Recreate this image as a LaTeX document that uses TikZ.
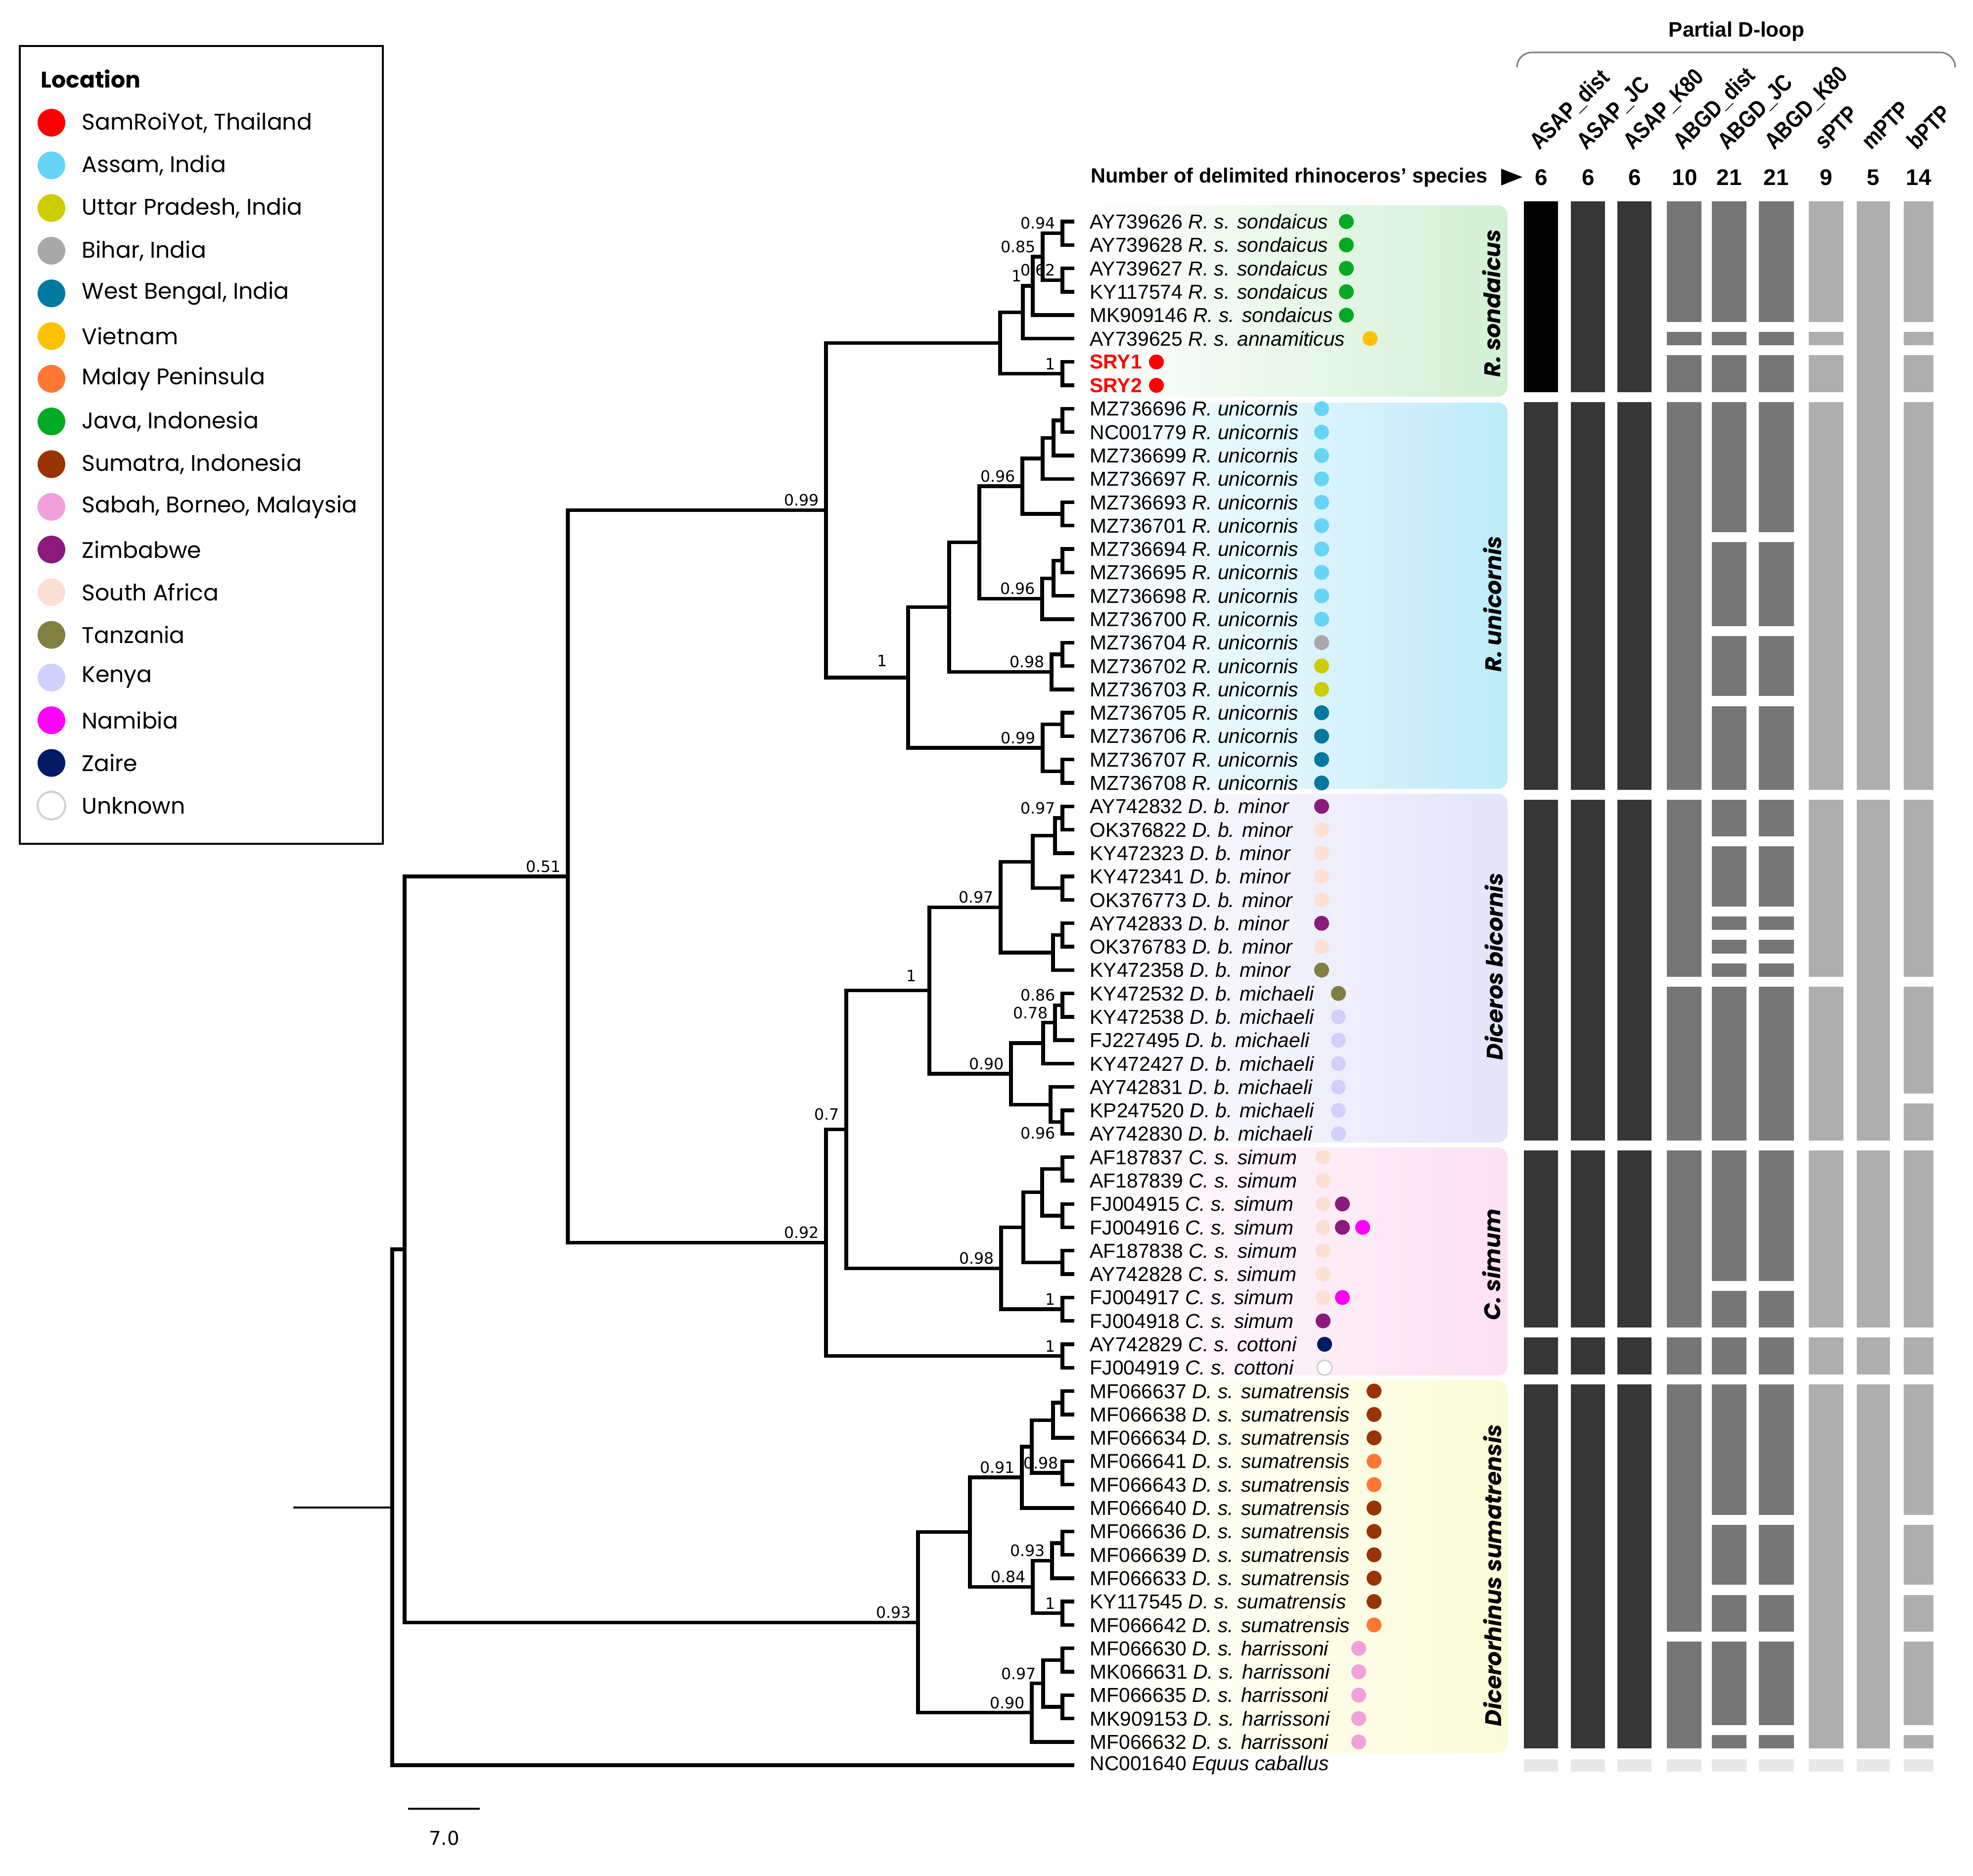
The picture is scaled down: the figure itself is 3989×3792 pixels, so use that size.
\documentclass[tikz,border=0pt]{standalone}
\usepackage{fontspec}
\setmainfont{Liberation Sans}
\newfontfamily\legfont{Poppins}
\newfontfamily\suppfont{DejaVu Sans}
\newfontfamily\narrowfont[FakeStretch=0.84]{Liberation Sans}

\definecolor{cSam}{HTML}{FF0000}
\definecolor{cAssam}{HTML}{66D5F5}
\definecolor{cUP}{HTML}{CCCC00}
\definecolor{cBihar}{HTML}{A8A8A8}
\definecolor{cWB}{HTML}{00789F}
\definecolor{cViet}{HTML}{FFC000}
\definecolor{cMalay}{HTML}{FF7733}
\definecolor{cJava}{HTML}{00AA22}
\definecolor{cSumatra}{HTML}{993300}
\definecolor{cSabah}{HTML}{F2A0DC}
\definecolor{cZim}{HTML}{8B1A7A}
\definecolor{cSA}{HTML}{FCE0D4}
\definecolor{cTanz}{HTML}{7F7F40}
\definecolor{cKenya}{HTML}{D0D0FA}
\definecolor{cNam}{HTML}{FF00FF}
\definecolor{cZaire}{HTML}{001A66}
\definecolor{bDark}{HTML}{363636}
\definecolor{bMid}{HTML}{767676}
\definecolor{bLight}{HTML}{AEAEAE}
\definecolor{bNone}{HTML}{E8E8E8}
\definecolor{gSond}{HTML}{D3F0D5}
\definecolor{gUni}{HTML}{BDEBF9}
\definecolor{gBic}{HTML}{E4E4FA}
\definecolor{gSim}{HTML}{FCE0F1}
\definecolor{gSum}{HTML}{FBFCD6}

\tikzset{
  branch/.style={line width=2.1pt},
  leaflab/.style={anchor=west, inner sep=0pt, font=\fontsize{11.6}{13}\selectfont},
  supp/.style={anchor=south east, inner sep=1pt, xshift=-0.1cm, yshift=0.04cm, font=\suppfont\fontsize{9}{10}\selectfont},
  loc/.style={circle, inner sep=0pt, minimum size=0.3cm, fill=#1},
  legdot/.style={circle, inner sep=0pt, minimum size=0.56cm, fill=#1},
  legtext/.style={anchor=west, inner sep=0pt, font=\legfont\fontsize{13}{15}\selectfont},
  cladebox/.style={rounded corners=0.2cm, left color=white, middle color=#1!80!white, right color=#1},
  cladename/.style={rotate=90, font=\legfont\bfseries\itshape\fontsize{13}{15}\selectfont},
  colhead/.style={rotate=45, anchor=base west, inner sep=0pt, font=\narrowfont\bfseries\fontsize{13.5}{15}\selectfont},
  numlab/.style={font=\bfseries\fontsize{13}{15}\selectfont}
}

\newcommand{\clade}[4]{%
  \path (#3) -- (#4) coordinate[midway] (#1m);
  \coordinate (#1) at (#2,0 |- #1m);
  \draw[branch] (#1) |- (#3);
  \draw[branch] (#1) |- (#4);}
\newcommand{\supp}[3][]{\node[supp,#1] (p#2) at (#2) {#3};}
\newcommand{\blk}[5]{\fill[#5] (#1,{448+47.29*#3-13.6-27*(#3==0)}) rectangle (#2,{448+47.29*#4+13.6});}

\begin{document}
\begin{tikzpicture}[x=0.01cm, y=-0.01cm]
\useasboundingbox (0,0) rectangle (3989,3792);

% clade backgrounds
\shade[cladebox=gSond] (2180,415) rectangle (3048,802);
\shade[cladebox=gUni] (2180,814) rectangle (3048,1595);
\shade[cladebox=gBic] (2180,1605) rectangle (3048,2310);
\shade[cladebox=gSim] (2180,2320) rectangle (3048,2781);
\shade[cladebox=gSum] (2180,2791) rectangle (3048,3544);

\node[cladename] (nSond) at (3015,613) {R. sondaicus};
\node[cladename] (nUni) at (3017,1221) {R. unicornis};
\node[cladename] (nBic) at (3020,1954) {Diceros bicornis};
\node[cladename] (nSim) at (3015,2557) {C. simum};
\node[cladename] (nSum) at (3017,3185) {Dicerorhinus sumatrensis};

% leaves
\foreach \i/\acc/\tax in {0/AY739626/R. s. sondaicus, 1/AY739628/R. s. sondaicus,
  2/AY739627/R. s. sondaicus, 3/KY117574/R. s. sondaicus, 4/MK909146/R. s. sondaicus,
  5/AY739625/R. s. annamiticus,
  8/MZ736696/R. unicornis, 9/NC001779/R. unicornis, 10/MZ736699/R. unicornis,
  11/MZ736697/R. unicornis, 12/MZ736693/R. unicornis, 13/MZ736701/R. unicornis,
  14/MZ736694/R. unicornis, 15/MZ736695/R. unicornis, 16/MZ736698/R. unicornis,
  17/MZ736700/R. unicornis, 18/MZ736704/R. unicornis, 19/MZ736702/R. unicornis,
  20/MZ736703/R. unicornis, 21/MZ736705/R. unicornis, 22/MZ736706/R. unicornis,
  23/MZ736707/R. unicornis, 24/MZ736708/R. unicornis,
  25/AY742832/D. b. minor, 26/OK376822/D. b. minor, 27/KY472323/D. b. minor,
  28/KY472341/D. b. minor, 29/OK376773/D. b. minor, 30/AY742833/D. b. minor,
  31/OK376783/D. b. minor, 32/KY472358/D. b. minor,
  33/KY472532/D. b. michaeli, 34/KY472538/D. b. michaeli, 35/FJ227495/D. b. michaeli,
  36/KY472427/D. b. michaeli, 37/AY742831/D. b. michaeli, 38/KP247520/D. b. michaeli,
  39/AY742830/D. b. michaeli,
  40/AF187837/C. s. simum, 41/AF187839/C. s. simum, 42/FJ004915/C. s. simum,
  43/FJ004916/C. s. simum, 44/AF187838/C. s. simum, 45/AY742828/C. s. simum,
  46/FJ004917/C. s. simum, 47/FJ004918/C. s. simum,
  48/AY742829/C. s. cottoni, 49/FJ004919/C. s. cottoni,
  50/MF066637/D. s. sumatrensis, 51/MF066638/D. s. sumatrensis, 52/MF066634/D. s. sumatrensis,
  53/MF066641/D. s. sumatrensis, 54/MF066643/D. s. sumatrensis, 55/MF066640/D. s. sumatrensis,
  56/MF066636/D. s. sumatrensis, 57/MF066639/D. s. sumatrensis, 58/MF066633/D. s. sumatrensis,
  59/KY117545/D. s. sumatrensis, 60/MF066642/D. s. sumatrensis,
  61/MF066630/D. s. harrissoni, 62/MK066631/D. s. harrissoni, 63/MF066635/D. s. harrissoni,
  64/MK909153/D. s. harrissoni, 65/MF066632/D. s. harrissoni,
  66/NC001640/Equus caballus}{
  \coordinate (t\i) at (2172,{448+47.29*\i});
  \node[leaflab] (L\i) at (2203,{448+47.29*\i}) {\acc\ \textit{\tax}};
}
\coordinate (t6) at (2172,{448+47.29*6});
\coordinate (t7) at (2172,{448+47.29*7});
\node[leaflab, text=red, font=\bfseries\fontsize{11.6}{13}\selectfont] (L6) at (2203,{448+47.29*6}) {SRY1};
\node[leaflab, text=red, font=\bfseries\fontsize{11.6}{13}\selectfont] (L7) at (2203,{448+47.29*7}) {SRY2};

% location dots
\foreach \i/\x/\c in {0/2722/cJava, 1/2722/cJava, 2/2722/cJava, 3/2722/cJava, 4/2722/cJava,
  5/2770/cViet, 6/2338/cSam, 7/2338/cSam,
  8/2672/cAssam, 9/2672/cAssam, 10/2672/cAssam, 11/2672/cAssam, 12/2672/cAssam,
  13/2672/cAssam, 14/2672/cAssam, 15/2672/cAssam, 16/2672/cAssam, 17/2672/cAssam,
  18/2672/cBihar, 19/2672/cUP, 20/2672/cUP,
  21/2672/cWB, 22/2672/cWB, 23/2672/cWB, 24/2672/cWB,
  25/2672/cZim, 26/2672/cSA, 27/2672/cSA, 28/2672/cSA, 29/2672/cSA, 30/2672/cZim,
  31/2672/cSA, 32/2672/cTanz, 33/2706/cTanz,
  34/2706/cKenya, 35/2706/cKenya, 36/2706/cKenya, 37/2706/cKenya, 38/2706/cKenya, 39/2706/cKenya,
  40/2675/cSA, 41/2675/cSA, 42/2675/cSA, 42/2714/cZim,
  43/2675/cSA, 43/2714/cZim, 43/2755/cNam,
  44/2675/cSA, 45/2675/cSA, 46/2675/cSA, 46/2714/cNam, 47/2675/cZim,
  48/2678/cZaire,
  50/2778/cSumatra, 51/2778/cSumatra, 52/2778/cSumatra, 53/2778/cMalay, 54/2778/cMalay,
  55/2778/cSumatra, 56/2778/cSumatra, 57/2778/cSumatra, 58/2778/cSumatra, 59/2778/cSumatra,
  60/2778/cMalay,
  61/2747/cSabah, 62/2747/cSabah, 63/2747/cSabah, 64/2747/cSabah, 65/2747/cSabah}{
  \node[loc=\c] (d\i-\x) at (\x,{448+47.29*\i}) {};
}
\node[loc=white, draw=gray!40, line width=0.8pt] (d49-2678) at (2678,{448+47.29*49}) {};

% R. sondaicus
\clade{s01}{2148}{t0}{t1}
\clade{s23}{2148}{t2}{t3}
\clade{s03}{2108}{s01}{s23}
\clade{s04}{2088}{s03}{t4}
\clade{s05}{2068}{s04}{t5}
\clade{sry}{2148}{t6}{t7}
\clade{sond}{2022}{s05}{sry}
\supp{s01}{0.94}
\supp{s23}{0.62}
\supp{s03}{0.85}
\supp[xshift=-0.08cm]{s04}{1}
\supp{sry}{1}
% R. unicornis
\clade{u01}{2148}{t8}{t9}
\clade{u02}{2130}{u01}{t10}
\clade{u03}{2108}{u02}{t11}
\clade{u45}{2148}{t12}{t13}
\clade{ua}{2067}{u03}{u45}
\clade{u67}{2148}{t14}{t15}
\clade{u68}{2130}{u67}{t16}
\clade{ub}{2107}{u68}{t17}
\clade{uab}{1980}{ua}{ub}
\clade{u89}{2148}{t18}{t19}
\clade{uc}{2126}{u89}{t20}
\clade{uabc}{1919}{uab}{uc}
\clade{ud1}{2148}{t21}{t22}
\clade{ud2}{2148}{t23}{t24}
\clade{ud}{2108}{ud1}{ud2}
\clade{uni}{1836}{uabc}{ud}
\clade{rhino}{1670}{sond}{uni}
\supp{ua}{0.96}
\supp{ub}{0.96}
\supp{uc}{0.98}
\supp{ud}{0.99}
\supp[xshift=-0.28cm, yshift=0.14cm]{uni}{1}
\supp{rhino}{0.99}
% Diceros bicornis
\clade{b01}{2148}{t25}{t26}
\clade{b02}{2133}{b01}{t27}
\clade{b34}{2148}{t28}{t29}
\clade{ba}{2088}{b02}{b34}
\clade{b56}{2148}{t30}{t31}
\clade{b57}{2129}{b56}{t32}
\clade{minor}{2023}{ba}{b57}
\clade{b89}{2148}{t33}{t34}
\clade{b810}{2133}{b89}{t35}
\clade{b811}{2109}{b810}{t36}
\clade{bde}{2148}{t38}{t39}
\clade{bce}{2124}{t37}{bde}
\clade{mich}{2044}{b811}{bce}
\clade{bic}{1879}{minor}{mich}
\supp{b01}{0.97}
\supp{minor}{0.97}
\supp{b89}{0.86}
\supp{b810}{0.78}
\supp[anchor=north east, yshift=-0.1cm]{bde}{0.96}
\supp{mich}{0.90}
\supp[xshift=-0.12cm, yshift=0.1cm]{bic}{1}
% C. simum
\clade{c01}{2148}{t40}{t41}
\clade{c23}{2148}{t42}{t43}
\clade{c03}{2107}{c01}{c23}
\clade{c45}{2148}{t44}{t45}
\clade{c05}{2069}{c03}{c45}
\clade{c67}{2148}{t46}{t47}
\clade{simum}{2024}{c05}{c67}
\clade{cott}{2148}{t48}{t49}
\clade{bisi}{1711}{bic}{simum}
\clade{afr}{1670}{bisi}{cott}
\clade{ingA}{1148}{rhino}{afr}
\supp{c67}{1}
\supp{simum}{0.98}
\supp{cott}{1}
\supp[yshift=0.1cm]{bisi}{0.7}
\supp{afr}{0.92}
\supp{ingA}{0.51}
% Dicerorhinus sumatrensis
\clade{m01}{2148}{t50}{t51}
\clade{m02}{2129}{m01}{t52}
\clade{m34}{2148}{t53}{t54}
\clade{m04}{2086}{m02}{m34}
\clade{m05}{2066}{m04}{t55}
\clade{m67}{2148}{t56}{t57}
\clade{m68}{2127}{m67}{t58}
\clade{m910}{2148}{t59}{t60}
\clade{m610}{2088}{m68}{m910}
\clade{suma}{1961}{m05}{m610}
\clade{h01}{2148}{t61}{t62}
\clade{h23}{2148}{t63}{t64}
\clade{h03}{2109}{h01}{h23}
\clade{harr}{2086}{h03}{t65}
\clade{sum}{1856}{suma}{harr}
\supp[xshift=0.06cm]{m34}{0.98}
\supp{m05}{0.91}
\supp{m68}{0.93}
\supp{m910}{1}
\supp{m610}{0.84}
\supp{h03}{0.97}
\supp{harr}{0.90}
\supp{sum}{0.93}
% root
\clade{ing}{818}{ingA}{sum}
\clade{root}{793}{ing}{t66}
\coordinate (stub) at (593,0 |- root);
\draw[branch, line width=1.2pt] (stub) -- (root);

% scale bar
\coordinate (sb1) at (825,3657);
\coordinate (sb2) at (970,3657);
\draw[line width=1.2pt] (sb1) -- (sb2);
\node[font=\suppfont\fontsize{11}{13}\selectfont] (sblab) at (898,3716) {7.0};

% delimitation bars
\foreach \a/\b in {8/24,25/39,40/47,48/49,50/65} {\blk{3081}{3150}{\a}{\b}{bDark}}
\blk{3081}{3150}{0}{7}{black}
\foreach \a/\b in {0/7,8/24,25/39,40/47,48/49,50/65} {\blk{3176}{3245}{\a}{\b}{bDark}}
\foreach \a/\b in {0/7,8/24,25/39,40/47,48/49,50/65} {\blk{3270}{3339}{\a}{\b}{bDark}}
\foreach \a/\b in {0/4,5/5,6/7,8/24,25/32,33/39,40/47,48/49,50/60,61/65} {\blk{3370}{3440}{\a}{\b}{bMid}}
\foreach \a/\b in {0/4,5/5,6/7,8/13,14/17,18/20,21/24,25/26,27/29,30/30,31/31,32/32,33/39,
  40/45,46/47,48/49,50/55,56/58,59/60,61/64,65/65} {\blk{3461}{3531}{\a}{\b}{bMid}}
\foreach \a/\b in {0/4,5/5,6/7,8/13,14/17,18/20,21/24,25/26,27/29,30/30,31/31,32/32,33/39,
  40/45,46/47,48/49,50/55,56/58,59/60,61/64,65/65} {\blk{3556}{3627}{\a}{\b}{bMid}}
\foreach \a/\b in {0/4,5/5,6/7,8/24,25/32,33/39,40/47,48/49,50/65} {\blk{3657}{3727}{\a}{\b}{bLight}}
\foreach \a/\b in {0/24,25/39,40/47,48/49,50/65} {\blk{3754}{3821}{\a}{\b}{bLight}}
\foreach \a/\b in {0/4,5/5,6/7,8/24,25/32,33/37,38/39,40/47,48/49,50/55,56/58,59/60,61/64,65/65} {\blk{3849}{3909}{\a}{\b}{bLight}}
\foreach \xl/\xr in {3081/3150,3176/3245,3270/3339,3370/3440,3461/3531,3556/3627,3657/3727,3754/3821,3849/3909}
  {\fill[bNone] (\xl,3557) rectangle (\xr,3582);}

% header
\node[font=\bfseries\fontsize{12}{14}\selectfont] (dloop) at (3511,64) {Partial D-loop};
\draw[gray, line width=0.9pt, rounded corners=0.3cm] (3067,135) -- (3067,106) -- (3953,106) -- (3953,135);
\foreach \x/\t [count=\k] in {3112/ASAP\_dist, 3207/ASAP\_JC, 3301/ASAP\_K80, 3402/ABGD\_dist,
  3492/ABGD\_JC, 3587/ABGD\_K80, 3688/sPTP, 3783/mPTP, 3875/bPTP}
  {\node[colhead] (h\k) at (\x,305) {\t};}
\node[anchor=east, font=\bfseries\fontsize{11.8}{14}\selectfont] (numtitle) at (3020,359) {Number of delimited rhinoceros' species};
\fill (3035,341) -- (3078,358) -- (3035,375) -- cycle;
\foreach \x/\n [count=\k] in {3116/6,3211/6,3305/6,3406/10,3496/21,3591/21,3692/9,3787/5,3879/14}
  {\node[numlab] (num\k) at (\x,359) {\n};}

% legend
\draw[line width=1.4pt] (40,93) rectangle (774,1706);
\node[anchor=west, inner sep=0pt, font=\legfont\bfseries\fontsize{13}{15}\selectfont] (loctitle) at (82,159) {Location};
\foreach \c/\t [count=\k from 0] in {cSam/{SamRoiYot, Thailand}, cAssam/{Assam, India},
  cUP/{Uttar Pradesh, India}, cBihar/{Bihar, India}, cWB/{West Bengal, India}, cViet/Vietnam,
  cMalay/Malay Peninsula, cJava/{Java, Indonesia}, cSumatra/{Sumatra, Indonesia},
  cSabah/{Sabah, Borneo, Malaysia}, cZim/Zimbabwe, cSA/South Africa, cTanz/Tanzania,
  cKenya/Kenya, cNam/Namibia, cZaire/Zaire}{
  \node[legdot=\c] (ld\k) at (104,{248+86.3*\k}) {};
  \node[legtext] (lt\k) at (165,{248+86.3*\k}) {\t};
}
\node[legdot=white, draw=gray!35, line width=1.2pt] (ld16) at (104,{248+86.3*16}) {};
\node[legtext] (lt16) at (165,{248+86.3*16}) {Unknown};
\end{tikzpicture}
\end{document}
